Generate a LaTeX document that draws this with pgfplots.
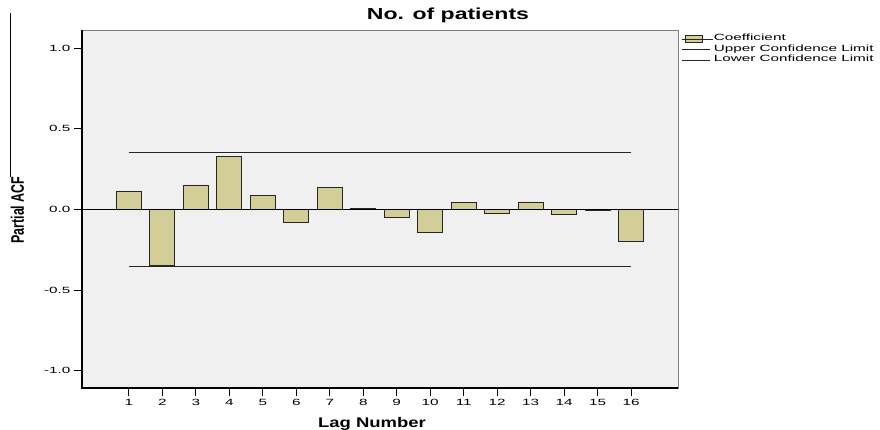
\documentclass[border=0pt]{standalone}
\usepackage{pgfplots}
\usepackage{pgfplotstable}
\pgfplotsset{compat=1.18}
\usepackage{fontspec}
\setmainfont{Liberation Sans}
\newfontfamily\tickfont[FakeStretch=1.7]{Liberation Sans}
\newfontfamily\titlefont[FakeStretch=1.44]{Liberation Sans}
\newfontfamily\xlabfont[FakeStretch=1.32]{Liberation Sans}
\definecolor{barfill}{RGB}{211,206,151}
\definecolor{plotbg}{RGB}{240,240,240}

\pgfplotstableread{
lag pacf
1 0.113
2 -0.348
3 0.152
4 0.329
5 0.085
6 -0.082
7 0.134
8 0.008
9 -0.047
10 -0.142
11 0.041
12 -0.023
13 0.047
14 -0.031
15 -0.008
16 -0.196
}\pacftable

\begin{document}
\begin{tikzpicture}
\useasboundingbox (-82pt,-41pt) rectangle (798pt,388pt);
\begin{axis}[
  at={(0pt,0pt)}, anchor=south west,
  scale only axis, width=596pt, height=358pt,
  xmin=-0.4, xmax=17.4, ymin=-1.107, ymax=1.113,
  axis background/.style={fill=plotbg},
  axis line style={draw=black!50, line width=0.8pt},
  xtick={1,...,16},
  ytick={-1,-0.5,0,0.5,1},
  yticklabels={-1.0,-0.5,0.0,0.5,1.0},
  tick pos=left,
  tick align=outside,
  major tick length=8pt,
  tick style={black, line width=1pt},
  /pgf/number format/assume math mode=true,
  tick label style={font=\tickfont\fontsize{9}{10}\selectfont},
  title={No. of patients},
  title style={at={(axis description cs:0.614,1)}, anchor=base, yshift=4.3pt, font=\titlefont\bfseries\fontsize{16}{18}\selectfont},
  xlabel={Lag Number},
  xlabel style={at={(axis description cs:0.4866,0)}, anchor=base, yshift=-39pt, font=\xlabfont\bfseries\fontsize{14}{16}\selectfont},
  ylabel={\scalebox{1}[1.45]{Partial ACF}},
  ylabel style={at={(axis description cs:-0.1082,0.497)}, anchor=center, font=\bfseries\fontsize{12.5}{14}\selectfont},
  legend style={at={(1,1)}, anchor=north west, xshift=3.7pt, yshift=-3.7pt, draw=none, fill=none,
    font=\tickfont\fontsize{9}{10}\selectfont, row sep=0pt, inner sep=0pt,
    nodes={inner sep=0pt, text height=7pt, text depth=3.5pt}},
  legend cell align=left,
]
\addplot[ybar, bar width=25pt, fill=barfill, draw=black!85, line width=0.8pt,
  legend image code/.code={\draw[fill=barfill, draw=black!85, line width=0.8pt] (3.3pt,-3.3pt) rectangle (20pt,3.3pt); \path (0pt,0pt) -- (31pt,0pt);}]
  table[x=lag, y=pacf] {\pacftable};
\addlegendentry{Coefficient}
\addplot[black!85, line width=0.9pt,
  legend image code/.code={\draw[black!85, line width=0.8pt] (0pt,0pt) -- (28pt,0pt); \path (31pt,0pt);}]
  coordinates {(1,0.352) (16,0.352)};
\addlegendentry{Upper Confidence Limit}
\addplot[black!85, line width=0.9pt,
  legend image code/.code={\draw[black!85, line width=0.8pt] (0pt,0pt) -- (28pt,0pt); \path (31pt,0pt);}]
  coordinates {(1,-0.352) (16,-0.352)};
\addlegendentry{Lower Confidence Limit}
\addplot[black, line width=0.9pt, forget plot] coordinates {(-0.4,0) (17.4,0)};
\end{axis}
\draw[black, line width=1.2pt] (0pt,358pt) -- (0pt,0pt) -- (596pt,0pt);
\draw[black, line width=0.8pt] (-72pt,211pt) -- (-72pt,375pt);
\end{tikzpicture}
\end{document}
